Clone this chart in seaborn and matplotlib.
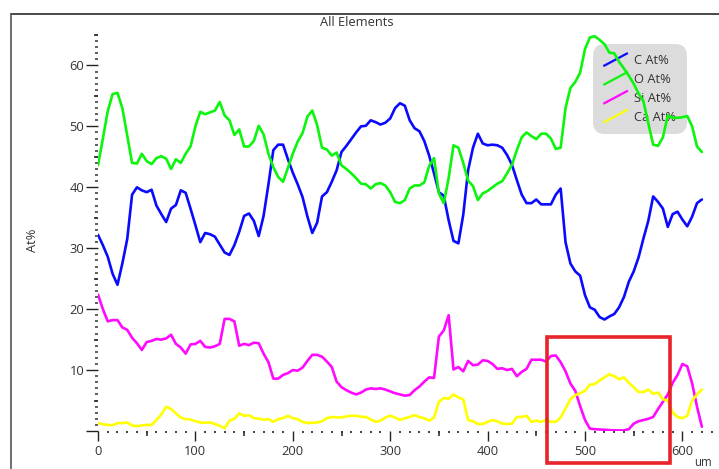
import numpy as np
import pandas as pd
import matplotlib
matplotlib.use("Agg")
import matplotlib.pyplot as plt
import seaborn as sns
from matplotlib.legend_handler import HandlerBase
from matplotlib.lines import Line2D
from matplotlib.patches import Rectangle
from matplotlib.ticker import MultipleLocator, FixedLocator, NullFormatter

# Line-scan positions (um) and atomic percentages per element
distance_um = np.arange(0, 625, 5)

carbon = [
    32.2, 30.5, 28.6, 25.8, 24.0, 27.5, 31.5, 38.8, 40.0, 39.5,
    39.2, 39.6, 37.0, 35.6, 34.3, 36.5, 37.1, 39.5, 39.1, 36.5,
    33.8, 31.0, 32.5, 32.3, 31.9, 30.6, 29.3, 28.9, 30.5, 32.7,
    35.3, 35.7, 34.5, 32.0, 35.3, 40.5, 46.1, 47.0, 47.0, 44.6,
    42.4, 40.5, 38.4, 35.2, 32.5, 34.2, 38.5, 39.2, 40.9, 42.8,
    45.8, 46.8, 47.9, 49.0, 50.0, 50.1, 51.0, 50.7, 50.3, 50.6,
    51.3, 53.0, 53.8, 53.4, 51.0, 49.7, 49.2, 47.6, 45.2, 42.3,
    39.2, 38.6, 34.6, 31.2, 30.8, 35.5, 42.8, 46.5, 48.8, 47.2,
    46.9, 47.0, 46.9, 46.5, 45.3, 43.7, 41.2, 38.8, 37.4, 37.4,
    38.0, 37.2, 37.2, 37.2, 38.8, 39.8, 31.0, 27.5, 26.2, 25.5,
    22.3, 20.3, 19.9, 18.7, 18.3, 18.8, 19.2, 20.3, 22.0, 24.5,
    26.2, 28.5, 31.6, 34.5, 38.5, 37.6, 36.5, 33.5, 35.6, 36.0,
    34.7, 33.6, 35.2, 37.4, 38.0,
]

oxygen = [
    43.6, 48.0, 52.5, 55.3, 55.5, 53.0, 48.5, 44.0, 43.9, 45.5,
    44.3, 43.8, 44.8, 45.1, 44.7, 43.0, 44.6, 44.0, 45.5, 46.7,
    50.0, 52.4, 52.0, 52.3, 52.6, 54.0, 51.8, 51.0, 48.6, 49.5,
    46.7, 46.7, 47.6, 50.1, 48.7, 45.5, 43.3, 41.7, 40.9, 43.2,
    45.5, 47.5, 48.9, 51.6, 52.6, 50.2, 46.5, 46.2, 45.2, 45.7,
    43.6, 43.0, 42.3, 41.5, 40.6, 40.5, 39.8, 40.5, 40.7, 40.3,
    39.2, 37.6, 37.4, 37.9, 39.8, 40.3, 40.3, 40.8, 43.5, 44.8,
    39.0, 37.4, 41.5, 46.9, 46.5, 44.0, 41.1, 40.2, 37.9, 39.0,
    39.4, 40.0, 40.6, 41.0, 42.3, 43.7, 46.1, 48.2, 49.0, 48.4,
    47.9, 48.8, 48.8, 48.0, 46.3, 46.5, 53.0, 56.3, 57.3, 58.8,
    62.7, 64.6, 64.8, 64.2, 63.5, 62.1, 62.0, 60.6, 59.5, 58.3,
    57.0, 55.4, 54.1, 50.5, 47.0, 46.8, 48.2, 51.8, 51.4, 51.4,
    51.5, 51.7, 50.0, 46.7, 45.8,
]

silicon = [
    22.4, 20.0, 18.0, 18.2, 18.2, 17.0, 16.6, 15.3, 14.4, 13.3,
    14.6, 14.8, 15.1, 15.0, 15.2, 15.8, 14.3, 13.7, 12.7, 14.2,
    14.3, 14.8, 13.8, 13.7, 13.9, 14.3, 18.4, 18.4, 18.0, 14.0,
    14.3, 14.1, 14.5, 14.4, 12.7, 11.3, 8.6, 8.6, 9.2, 9.5,
    10.0, 9.9, 10.4, 11.5, 12.5, 12.5, 12.2, 11.4, 10.5, 8.1,
    7.2, 6.7, 6.3, 6.0, 6.3, 6.8, 7.0, 6.9, 7.0, 6.8,
    6.5, 6.2, 6.0, 5.8, 5.9, 6.7, 7.3, 8.1, 8.8, 8.7,
    15.5, 16.5, 19.0, 10.1, 10.5, 9.8, 11.5, 10.8, 10.9, 11.6,
    11.5, 11.0, 10.2, 10.3, 10.0, 10.2, 9.0, 9.7, 10.2, 11.7,
    11.7, 11.7, 11.4, 12.3, 12.4, 11.3, 9.8, 7.8, 6.6, 4.1,
    1.8, 0.4, 0.3, 0.25, 0.2, 0.15, 0.1, 0.1, 0.1, 0.3,
    1.2, 1.6, 1.8, 2.0, 2.3, 3.6, 4.8, 6.0, 7.9, 9.2,
    11.0, 10.6, 7.8, 4.0, 0.7,
]

calcium = [
    1.3, 1.1, 1.0, 0.95, 1.3, 1.3, 1.4, 0.9, 0.8, 0.9,
    1.0, 1.0, 1.8, 2.7, 4.0, 3.6, 2.9, 2.2, 1.95, 1.9,
    1.6, 1.4, 1.35, 1.4, 1.15, 0.85, 0.45, 1.7, 2.0, 2.9,
    2.5, 2.6, 2.1, 2.05, 1.85, 1.95, 1.5, 1.95, 2.1, 2.5,
    2.1, 1.95, 1.5, 1.3, 1.35, 1.4, 1.6, 2.1, 2.3, 2.25,
    2.2, 2.4, 2.5, 2.5, 2.35, 2.3, 1.9, 1.5, 1.7, 2.2,
    2.5, 2.2, 1.8, 2.1, 2.3, 2.6, 2.3, 2.1, 1.7, 2.2,
    4.8, 5.4, 5.3, 6.0, 5.5, 5.2, 1.8, 1.6, 1.15, 1.15,
    1.5, 1.8, 1.6, 1.2, 1.15, 1.2, 2.3, 2.3, 2.5, 1.5,
    1.7, 1.5, 1.8, 1.5, 1.5, 2.2, 3.7, 5.2, 5.9, 6.2,
    6.6, 7.6, 7.7, 8.3, 8.8, 9.3, 9.0, 8.5, 8.8, 7.9,
    7.2, 6.4, 6.4, 6.8, 6.1, 6.3, 5.2, 5.0, 3.0, 2.3,
    2.1, 2.5, 5.0, 6.0, 6.8,
]

series_labels = ["C At%", "O At%", "Si At%", "Ca At%"]
series_colors = ["#0a0aff", "#0cf50c", "#ff0aff", "#ffff00"]
x_major_ticks = [0, 100, 200, 300, 400, 500, 600]
y_major_ticks = [0, 10, 20, 30, 40, 50, 60]

TEXT = "#333333"
FS = 9.3

df = pd.concat(
    [
        pd.DataFrame({"distance": distance_um, "value": vals, "element": lab})
        for vals, lab in zip([carbon, oxygen, silicon, calcium], series_labels)
    ],
    ignore_index=True,
)

sns.set_style("white")
plt.rcParams["font.family"] = ["Open Sans", "DejaVu Sans"]

W, H = 719, 469
fig = plt.figure(figsize=(W / 100, H / 100), dpi=100)
ax = fig.add_axes([98 / W, 1 - 431 / H, (719 - 98) / W, (431 - 35) / H])

sns.lineplot(
    data=df, x="distance", y="value", hue="element",
    hue_order=series_labels, palette=series_colors,
    sort=False, estimator=None, linewidth=1.9, legend=False, ax=ax,
)

ax.set_xlim(0, (719 - 98) / 0.974)
ax.set_ylim(0, 65)
ax.set_xlabel("")
ax.set_ylabel("")
for s in ax.spines.values():
    s.set_visible(False)

# tick marks: long majors, medium at the halves, dots for minors
ax.xaxis.set_major_locator(FixedLocator(x_major_ticks))
ax.xaxis.set_minor_locator(MultipleLocator(10))
ax.yaxis.set_major_locator(FixedLocator(y_major_ticks))
ax.set_yticklabels(["" if t == 0 else str(t) for t in y_major_ticks])
ax.yaxis.set_minor_locator(MultipleLocator(1))
ax.tick_params(axis="x", which="major", direction="out", length=7.5, width=1.0,
               color="#222222", labelsize=FS, labelcolor=TEXT, pad=2.5, bottom=True)
ax.tick_params(axis="y", which="major", direction="out", length=9, width=1.0,
               color="#222222", labelsize=FS, labelcolor=TEXT, pad=1, left=True)
ax.tick_params(axis="x", which="minor", direction="out", length=1.6, width=1.3,
               color="#333333", bottom=True)
ax.tick_params(axis="y", which="minor", direction="out", length=2.0, width=1.1,
               color="#333333", left=True)

secx = ax.secondary_xaxis("bottom")
secx.xaxis.set_major_locator(FixedLocator([50, 150, 250, 350, 450, 550]))
secx.xaxis.set_major_formatter(NullFormatter())
secx.tick_params(direction="out", length=3.6, width=1.2, color="#333333")
secx.spines["bottom"].set_visible(False)

secy = ax.secondary_yaxis("left")
secy.yaxis.set_major_locator(FixedLocator([5, 15, 25, 35, 45, 55, 65]))
secy.yaxis.set_major_formatter(NullFormatter())
secy.tick_params(direction="out", length=3.2, width=1.2, color="#333333")
secy.spines["left"].set_visible(False)


class DiagonalHandler(HandlerBase):
    def create_artists(self, legend, orig_handle, xdescent, ydescent,
                       width, height, fontsize, trans):
        x0, y0 = -xdescent, -ydescent
        line = Line2D([x0, x0 + width], [y0 - 0.2 * height, y0 + 1.25 * height],
                      color=orig_handle.get_color(), linewidth=1.6,
                      solid_capstyle="butt")
        line.set_transform(trans)
        return [line]


handles = [Line2D([], [], color=c) for c in series_colors]
leg = ax.legend(
    handles, series_labels, handler_map={Line2D: DiagonalHandler()},
    loc="upper left", bbox_to_anchor=(593 / W, 1 - 44 / H),
    bbox_transform=fig.transFigure, frameon=True, fancybox=True,
    facecolor="#dcdcdc", edgecolor="none", framealpha=1, fontsize=FS,
    handlelength=1.9, handletextpad=0.5, labelspacing=0.45, borderpad=0.8,
    borderaxespad=0,
)
leg.get_frame().set_boxstyle("round,pad=0,rounding_size=0.9")
for t in leg.get_texts():
    t.set_color(TEXT)
leg.set_zorder(1)

# highlighted region around the Ca-rich zone
ax.add_patch(Rectangle((461, -5.2), 126, 20.6, fill=False, edgecolor="#e8232a",
                       linewidth=2.6, clip_on=False, zorder=6))

fig.text(357 / W, 1 - 22 / H, "All Elements", ha="center", va="center",
         fontsize=FS, color=TEXT)
fig.text(33 / W, 1 - 240 / H, "At%", ha="center", va="center", rotation=90,
         fontsize=FS, color=TEXT)
fig.text(703 / W, 1 - 468.5 / H, "um", ha="center", va="bottom",
         fontsize=8.3, color=TEXT)

# outer panel frame (top and left edges)
fig.add_artist(Line2D([11 / W, 1], [1 - 14 / H, 1 - 14 / H], transform=fig.transFigure,
                      color="#2a2a2a", linewidth=1.2))
fig.add_artist(Line2D([11 / W, 11 / W], [0, 1 - 14 / H], transform=fig.transFigure,
                      color="#555555", linewidth=1.2))

fig.savefig("out.png", dpi=100)
